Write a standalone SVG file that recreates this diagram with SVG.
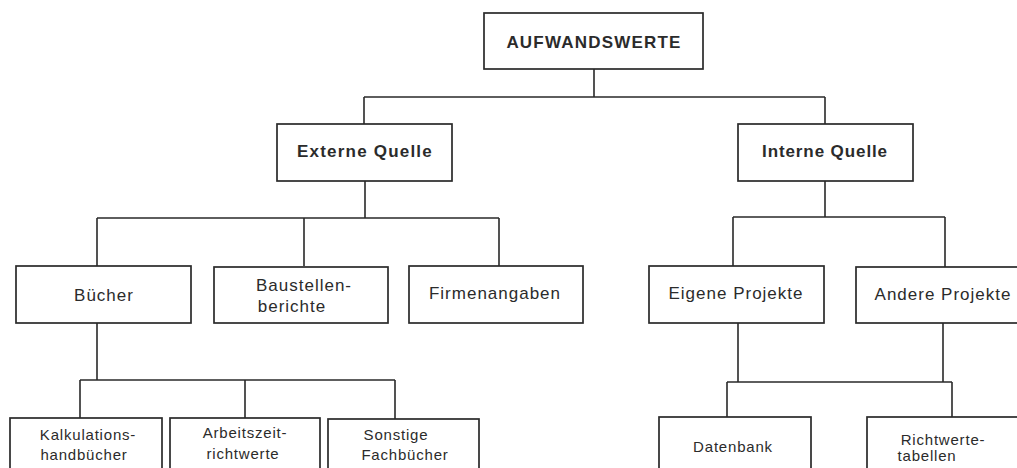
<svg xmlns="http://www.w3.org/2000/svg" width="1017" height="468" viewBox="0 0 1017 468">
  <style>
    .box { fill: #ffffff; stroke: #2a2a2a; stroke-width: 1.7; }
    .wire { fill: none; stroke: #2a2a2a; stroke-width: 1.6; }
    .t { font-family: "Liberation Sans", Arial, sans-serif; fill: #2b2b2b; text-anchor: middle; }
    .head { font-size: 17px; font-weight: bold; letter-spacing: 1.2px; }
    .mid { font-size: 17px; letter-spacing: 1px; }
    .low { font-size: 15px; letter-spacing: 0.8px; }
  </style>
  <rect width="1017" height="468" fill="#ffffff"/>

  <!-- connectors -->
  <g id="connectors" class="wire">
    <path d="M594 69 V97 M364 97 H825 M364 97 V124 M825 97 V124"/>
    <path d="M365 181 V218 M97 218 H499 M97 218 V266 M304 218 V266 M499 218 V266"/>
    <path d="M825 181 V217 M733 217 H945 M733 217 V266 M945 217 V267"/>
    <path d="M97 323 V380 M80 380 H395 M80 380 V418 M245 380 V418 M395 380 V419"/>
    <path d="M738 323 V382 M943 323 V382 M727 382 H952 M727 382 V417 M952 382 V417"/>
  </g>

  <!-- root -->
  <g id="aufwandswerte">
    <rect class="box" x="484" y="13" width="219" height="56"/>
    <text class="t head" x="594" y="48">AUFWANDSWERTE</text>
  </g>

  <!-- level 1 -->
  <g id="externe-quelle">
    <rect class="box" x="277" y="124" width="175" height="57"/>
    <text class="t head" x="365" y="157">Externe Quelle</text>
  </g>
  <g id="interne-quelle">
    <rect class="box" x="738" y="124" width="175" height="57"/>
    <text class="t head" x="825" y="157" style="letter-spacing:0.9px">Interne Quelle</text>
  </g>

  <!-- level 2 -->
  <g id="buecher">
    <rect class="box" x="16" y="266" width="175" height="57"/>
    <text class="t mid" x="104" y="301">Bücher</text>
  </g>
  <g id="baustellenberichte">
    <rect class="box" x="214" y="267" width="174" height="56"/>
    <text class="t mid" x="304" y="291">Baustellen-</text>
    <text class="t mid" x="292" y="312">berichte</text>
  </g>
  <g id="firmenangaben">
    <rect class="box" x="409" y="266" width="174" height="57"/>
    <text class="t mid" x="495" y="299">Firmenangaben</text>
  </g>
  <g id="eigene-projekte">
    <rect class="box" x="649" y="266" width="175" height="57"/>
    <text class="t mid" x="736" y="299">Eigene Projekte</text>
  </g>
  <g id="andere-projekte">
    <rect class="box" x="856" y="267" width="175" height="56"/>
    <text class="t mid" x="943" y="300">Andere Projekte</text>
  </g>

  <!-- level 3 -->
  <g id="kalkulationshandbuecher">
    <rect class="box" x="10" y="418" width="152" height="60"/>
    <text class="t low" x="88" y="440">Kalkulations-</text>
    <text class="t low" x="84" y="460">handbücher</text>
  </g>
  <g id="arbeitszeitrichtwerte">
    <rect class="box" x="170" y="418" width="150" height="60"/>
    <text class="t low" x="245" y="438">Arbeitszeit-</text>
    <text class="t low" x="243" y="459">richtwerte</text>
  </g>
  <g id="sonstige-fachbuecher">
    <rect class="box" x="328" y="419" width="151" height="60"/>
    <text class="t low" x="396" y="440">Sonstige</text>
    <text class="t low" x="405" y="460">Fachbücher</text>
  </g>
  <g id="datenbank">
    <rect class="box" x="659" y="417" width="152" height="60"/>
    <text class="t low" x="733" y="452">Datenbank</text>
  </g>
  <g id="richtwertetabellen">
    <rect class="box" x="867" y="417" width="152" height="60"/>
    <text class="t low" x="943" y="445">Richtwerte-</text>
    <text class="t low" x="927" y="461">tabellen</text>
  </g>
</svg>
